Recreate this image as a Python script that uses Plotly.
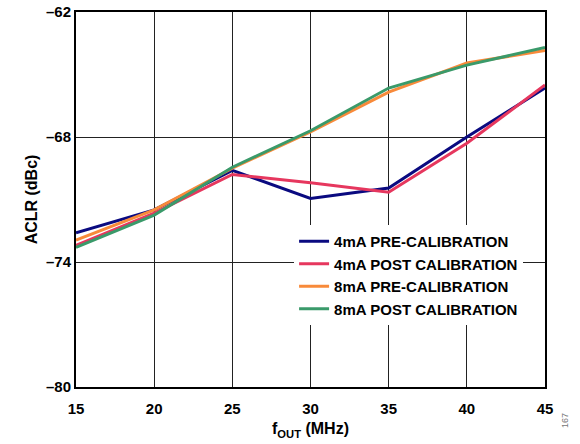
import plotly.graph_objects as go

freq = [15, 20, 25, 30, 35, 40, 45]
pre_4ma = [-72.6, -71.5, -69.6, -70.95, -70.45, -68.0, -65.65]
post_4ma = [-73.2, -71.65, -69.8, -70.2, -70.65, -68.3, -65.5]
pre_8ma = [-72.95, -71.5, -69.5, -67.75, -65.85, -64.45, -63.85]
post_8ma = [-73.3, -71.75, -69.45, -67.7, -65.65, -64.55, -63.7]

names = ["4mA PRE-CALIBRATION", "4mA POST CALIBRATION", "8mA PRE-CALIBRATION", "8mA POST CALIBRATION"]
colors = ["#0a0a80", "#e6375e", "#f88a3a", "#3a9a6a"]
series = [pre_4ma, post_4ma, pre_8ma, post_8ma]

y_ticks = [-62, -68, -74, -80]
y_ticktext = ["\u201362", "\u201368", "\u201374", "\u201380"]
x_ticks = [15, 20, 25, 30, 35, 40, 45]

FONT = "Liberation Sans, Arial, sans-serif"

fig = go.Figure()
for nm, col, ys in zip(names, colors, series):
    fig.add_trace(go.Scatter(x=freq, y=ys, mode="lines", name=nm,
                             line=dict(color=col, width=3)))

fig.update_layout(
    width=580, height=444,
    margin=dict(l=76, r=35, t=12, b=57, autoexpand=False),
    paper_bgcolor="white", plot_bgcolor="white",
    font=dict(family=FONT, size=14, color="black", weight="bold"),
    showlegend=True,
    legend=dict(x=0.465, y=0.432, xanchor="left", yanchor="top",
                bgcolor="white", borderwidth=0,
                font=dict(family=FONT, size=15, color="black", weight="bold"),
                itemwidth=30, tracegroupgap=0),
    xaxis=dict(range=[15, 45], tickvals=x_ticks, ticktext=[str(v) for v in x_ticks],
               showgrid=True, gridcolor="#222222", gridwidth=1.3,
               showline=True, linecolor="black", linewidth=2, mirror=True,
               ticks="", zeroline=False, automargin=False, ticklabelstandoff=7,
               tickfont=dict(family=FONT, size=15, color="black", weight="bold"),
               title=dict(text="f<sub>OUT</sub> (MHz)", standoff=7,
                          font=dict(family=FONT, size=16, color="black", weight="bold"))),
    yaxis=dict(range=[-80, -62], tickvals=y_ticks, ticktext=y_ticktext,
               showgrid=True, gridcolor="#222222", gridwidth=1.3,
               showline=True, linecolor="black", linewidth=2, mirror=True,
               ticks="", zeroline=False, automargin=False,
               tickfont=dict(family=FONT, size=15, color="black", weight="bold"),
               title=dict(text="ACLR (dBc)", standoff=4,
                          font=dict(family=FONT, size=16, color="black", weight="bold"))),
)

fig.add_annotation(text="167", xref="paper", yref="paper", x=1.043, y=-0.09,
                   xanchor="center", yanchor="middle",
                   showarrow=False, textangle=-90,
                   font=dict(family=FONT, size=9, color="#777777", weight="normal"))

fig.write_html("out.html", config={"displayModeBar": False},
               post_script="document.body.style.margin='0';")
